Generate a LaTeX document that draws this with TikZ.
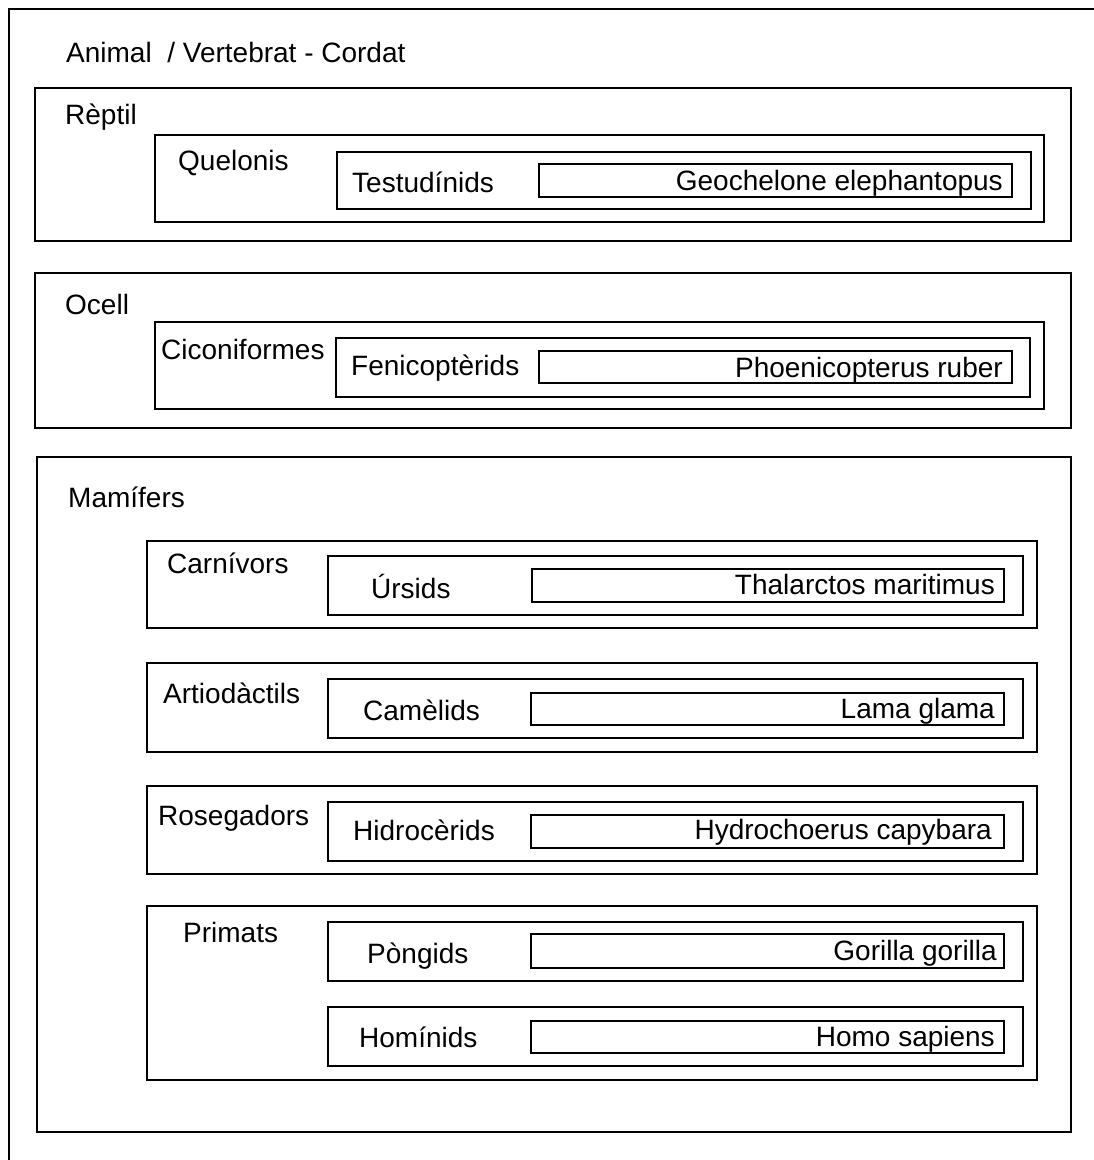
\documentclass[tikz,border=0pt]{standalone}
\usepackage{fontspec}
\setmainfont{Liberation Sans}
\begin{document}
\begin{tikzpicture}[x=1pt,y=-1pt,
  frame/.style={draw=black,line width=1.6pt},
  lbl/.style={anchor=base west,inner sep=0pt,font=\fontsize{28}{32}\selectfont},
  sp/.style={anchor=base east,inner sep=0pt,font=\fontsize{28}{32}\selectfont}]
\useasboundingbox (0,0) rectangle (1094,1160);
\fill[white] (0,0) rectangle (1094,1160);
% outer frame (only left and top edges visible)
\draw[frame] (9,1165) -- (9,9) -- (1100,9);
\node[lbl] (animal) at (66,62) {Animal\ \ / Vertebrat - Cordat};

% Reptil
\draw[frame] (35,88) rectangle (1071,241);
\node[lbl] (reptil) at (65,124) {Rèptil};
\draw[frame] (155,135) rectangle (1044,222);
\node[lbl] (quelonis) at (178,170) {Quelonis};
\draw[frame] (337,152) rectangle (1031,209);
\node[lbl] (testud) at (352,192) {Testudínids};
\draw[frame] (539,164) rectangle (1012,197);
\node[sp] (geoch) at (1003,190) {Geochelone elephantopus};

% Ocell
\draw[frame] (35,273) rectangle (1071,428);
\node[lbl] (ocell) at (65,314) {Ocell};
\draw[frame] (155,322) rectangle (1044,409);
\node[lbl] (cicon) at (161,359) {Ciconiformes};
\draw[frame] (336,338) rectangle (1030,397);
\node[lbl] (fenic) at (351,375) {Fenicoptèrids};
\draw[frame] (539,351) rectangle (1012,383);
\node[sp] (phoen) at (1003,377) {Phoenicopterus ruber};

% Mamifers
\draw[frame] (37,457) rectangle (1071,1132);
\node[lbl] (mamif) at (68,507) {Mamífers};

\draw[frame] (147,541) rectangle (1037,628);
\node[lbl] (carn) at (167,573) {Carnívors};
\draw[frame] (328,556) rectangle (1023,615);
\node[lbl] (urs) at (371,598) {Úrsids};
\draw[frame] (532,569) rectangle (1004,602);
\node[sp] (thal) at (995,594) {Thalarctos maritimus};

\draw[frame] (147,663) rectangle (1037,752);
\node[lbl] (artio) at (163,703) {Artiodàctils};
\draw[frame] (328,679) rectangle (1023,738);
\node[lbl] (camel) at (363,720) {Camèlids};
\draw[frame] (531,693) rectangle (1004,725);
\node[sp] (lama) at (995,718) {Lama glama};

\draw[frame] (147,786) rectangle (1037,874);
\node[lbl] (roseg) at (158,825) {Rosegadors};
\draw[frame] (328,802) rectangle (1023,861);
\node[lbl] (hidro) at (353,840) {Hidrocèrids};
\draw[frame] (531,815) rectangle (1004,848);
\node[sp] (hydro) at (992,839) {Hydrochoerus capybara};

\draw[frame] (147,906) rectangle (1037,1080);
\node[lbl] (prim) at (183,942) {Primats};
\draw[frame] (328,922) rectangle (1023,981);
\node[lbl] (pong) at (367,963) {Pòngids};
\draw[frame] (531,934) rectangle (1004,968);
\node[sp] (gor) at (997,960) {Gorilla gorilla};
\draw[frame] (328,1007) rectangle (1023,1066);
\node[lbl] (homin) at (359,1047) {Homínids};
\draw[frame] (531,1021) rectangle (1004,1053);
\node[sp] (homo) at (995,1046) {Homo sapiens};
\end{tikzpicture}
\end{document}
